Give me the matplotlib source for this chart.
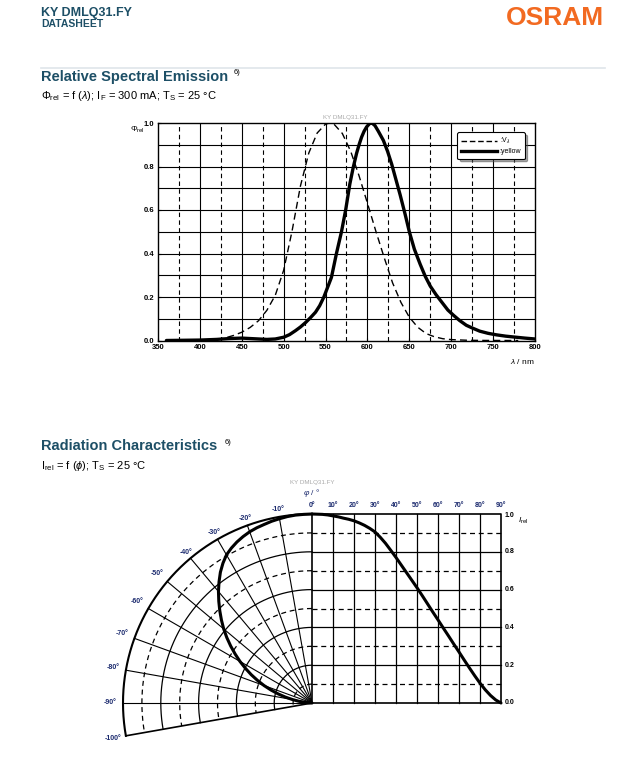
import numpy as np
import matplotlib
matplotlib.use('Agg')
import matplotlib.pyplot as plt
from matplotlib.lines import Line2D

plt.rcParams['font.family'] = ['Liberation Sans', 'DejaVu Sans']
plt.rcParams['mathtext.fontset'] = 'custom'
plt.rcParams['mathtext.rm'] = 'Liberation Sans'
plt.rcParams['mathtext.it'] = 'Liberation Sans:italic'
plt.rcParams['mathtext.bf'] = 'Liberation Sans:bold'

# spectral emission data
wl_v = [380, 400, 420, 430, 440, 450, 460, 470, 480, 490, 500, 510, 520, 530, 540, 550,
        555, 560, 570, 580, 590, 600, 610, 620, 630, 640, 650, 660, 670, 680, 690, 700,
        720, 740, 760, 780]
v_lambda = [0.0, 0.0004, 0.004, 0.0116, 0.023, 0.038, 0.06, 0.091, 0.139, 0.208, 0.323,
            0.503, 0.71, 0.862, 0.954, 0.995, 1.0, 0.995, 0.952, 0.87, 0.757, 0.631, 0.503,
            0.381, 0.265, 0.175, 0.107, 0.061, 0.032, 0.017, 0.0082, 0.0041, 0.001, 0.0003,
            0.0001, 0.0]

wl_y = [360, 380, 400, 420, 435, 450, 465, 480, 490, 500, 507, 514, 520, 526, 532, 538,
        543, 548, 553, 557, 563, 569, 574, 579, 583, 587, 590, 593, 596, 599, 602, 604,
        606, 609, 613, 619, 624, 629, 634, 639, 645, 650, 656, 663, 669, 675, 682, 689,
        696, 703, 710, 718, 726, 734, 744, 754, 765, 775, 788, 800]
yellow = [0.0, 0.001, 0.002, 0.005, 0.009, 0.011, 0.008, 0.005, 0.007, 0.015, 0.027, 0.045,
          0.062, 0.082, 0.105, 0.13, 0.16, 0.2, 0.25, 0.29, 0.4, 0.5, 0.6, 0.72, 0.795, 0.86,
          0.9, 0.935, 0.962, 0.982, 0.995, 1.0, 0.998, 0.988, 0.962, 0.92, 0.87, 0.81, 0.74,
          0.67, 0.58, 0.5, 0.42, 0.35, 0.295, 0.25, 0.21, 0.175, 0.14, 0.115, 0.092, 0.07,
          0.056, 0.043, 0.033, 0.026, 0.02, 0.016, 0.011, 0.007]

# radiation characteristics
phi = [0, 2.5, 5, 7.5, 10, 12.5, 15, 17.5, 20, 22.5, 25, 27.5, 30, 32.5, 35, 37.5, 40,
       42.5, 45, 47.5, 50, 52.5, 55, 57.5, 60, 62.5, 65, 67.5, 70, 72.5, 75, 77.5, 80,
       82.5, 85, 87.5, 90]
i_rel = [1.0, 0.999, 0.998, 0.995, 0.99, 0.985, 0.978, 0.972, 0.964, 0.953, 0.94, 0.924,
         0.905, 0.877, 0.845, 0.808, 0.77, 0.73, 0.69, 0.65, 0.61, 0.568, 0.525, 0.482,
         0.44, 0.397, 0.355, 0.312, 0.27, 0.227, 0.185, 0.144, 0.105, 0.07, 0.04, 0.016, 0.0]

W, H = 639, 759
TEAL = '#1d4f66'
NAVY = '#1b2a6e'

fig = plt.figure(figsize=(W / 100, H / 100), dpi=100)


def ft(x, y, s, **kw):
    # place text with pixel coordinates (top-left origin)
    return fig.text(x / W, 1 - y / H, s, **kw)


# header
ft(41, 13, 'KY DMLQ31.FY', fontsize=9, fontweight='bold', color=TEAL, va='center')
ft(41, 24, 'DATASHEET', fontsize=7.5, fontweight='bold', color=TEAL, va='center')
ft(604, 18, 'OSRAM', fontsize=19, fontweight='bold', color='#f26a21', va='center', ha='right')
fig.add_artist(Line2D([41 / W, 605 / W], [1 - 68 / H, 1 - 68 / H], color='#dfe5ea', lw=1.2))

ft(41, 77, 'Relative Spectral Emission', fontsize=10.5, fontweight='bold', color=TEAL, va='center')
ft(234, 73, '6)', fontsize=5.5, color='black', va='center')
ft(41, 96, r'$\Phi_{\rm rel}$ = f ($\lambda$); I$_{\rm F}$ = 300 mA; T$_{\rm S}$ = 25 °C',
   fontsize=8, va='center')

ft(41, 446, 'Radiation Characteristics', fontsize=10.5, fontweight='bold', color=TEAL, va='center')
ft(225, 442, '6)', fontsize=5.5, color='black', va='center')
ft(41, 466, r'I$_{\rm rel}$ = f ($\phi$); T$_{\rm S}$ = 25 °C', fontsize=8, va='center')

# ---------------- spectral emission chart ----------------
L, R, T, B = 158, 535, 123, 340.5
ax = fig.add_axes([L / W, 1 - B / H, (R - L) / W, (B - T) / H])
ax.set_xlim(350, 800)
ax.set_ylim(0, 1)

for x in range(375, 800, 25):
    ls = '-' if x % 50 == 0 else (0, (4, 3))
    ax.axvline(x, color='black', lw=0.8, ls=ls, zorder=1)
for y in np.arange(0.1, 1.0, 0.1):
    ax.axhline(y, color='black', lw=0.8, zorder=1)

ax.plot(wl_v, v_lambda, color='black', lw=1.0, ls=(0, (5, 3)), zorder=3)
ax.plot(wl_y, yellow, color='black', lw=2.4, zorder=4, solid_capstyle='round',
        solid_joinstyle='round')

ax.set_xticks(range(350, 801, 50))
ax.set_yticks(np.arange(0, 1.01, 0.2))
ax.set_yticklabels(['%.1f' % v for v in np.arange(0, 1.01, 0.2)])
ax.tick_params(labelsize=5.5, length=2, width=0.8, direction='in', pad=2.5)
for lab in ax.get_xticklabels() + ax.get_yticklabels():
    lab.set_fontweight('bold')
for s in ax.spines.values():
    s.set_linewidth(1.0)

handles = [Line2D([], [], color='black', lw=1.0, ls=(0, (4, 2))),
           Line2D([], [], color='black', lw=2.4)]
leg = ax.legend(handles, [r':V$_{\lambda}$', ':yellow'], loc='upper right',
                bbox_to_anchor=(0.973, 0.957), borderaxespad=0, prop={'size': 5},
                fancybox=True, shadow=True, framealpha=1, edgecolor='black',
                handlelength=5.2, handletextpad=0.3, borderpad=0.55, labelspacing=0.25)
leg.get_frame().set_linewidth(0.8)
leg.set_zorder(6)

ft(345, 118, 'KY DMLQ31.FY', fontsize=4.5, color='#aaaaaa', ha='center', va='center')
ft(137, 130, r'$\mathit{\Phi}_{\rm rel}$', fontsize=6, ha='center', va='center')
ft(522, 361, r'$\lambda$ / nm', fontsize=6, ha='center', va='center')

# ---------------- radiation characteristics chart ----------------
OX, OY, U = 312, 703, 189
L2, R2, T2, B2 = 40, 615, 470, 759
ax2 = fig.add_axes([L2 / W, 1 - B2 / H, (R2 - L2) / W, (B2 - T2) / H])
ax2.set_xlim((L2 - OX) / U, (R2 - OX) / U)
ax2.set_ylim((OY - B2) / U, (OY - T2) / U)
ax2.axis('off')

t = np.radians(np.linspace(0, 100, 201))
for k in range(1, 11):
    r = k / 10
    if k == 10:
        ax2.plot(-r * np.sin(t), r * np.cos(t), color='black', lw=1.5)
    elif k % 2 == 0:
        ax2.plot(-r * np.sin(t), r * np.cos(t), color='black', lw=0.9)
    else:
        ax2.plot(-r * np.sin(t), r * np.cos(t), color='black', lw=0.9, ls=(0, (4, 3)))
for a in range(10, 101, 10):
    ar = np.radians(a)
    lw = 1.2 if a == 100 else 0.8
    ax2.plot([0, -np.sin(ar)], [0, np.cos(ar)], color='black', lw=lw)

for a in range(10, 90, 10):
    ax2.plot([a / 90, a / 90], [0, 1], color='black', lw=0.9)
for k in range(1, 10):
    y = k / 10
    if k % 2 == 0:
        ax2.plot([0, 1], [y, y], color='black', lw=0.9)
    else:
        ax2.plot([0, 1], [y, y], color='black', lw=0.9, ls=(0, (4, 3)))
ax2.plot([0, 1, 1, 0, 0], [0, 0, 1, 1, 0], color='black', lw=1.2)

# curve in cartesian part and polar part
ph = np.array(phi)
ir = np.array(i_rel)
ax2.plot(ph / 90, ir, color='black', lw=2.2, solid_capstyle='round',
         solid_joinstyle='round', zorder=5)
pr = np.radians(ph)
ax2.plot(-ir * np.sin(pr), ir * np.cos(pr), color='black', lw=2.2, solid_capstyle='round',
         solid_joinstyle='round', zorder=5)

# labels
for a in range(10, 101, 10):
    ar = np.radians(a)
    rr = 1.04 if a < 50 else 1.07
    ax2.text(-rr * np.sin(ar), rr * np.cos(ar), '-%d°' % a, fontsize=5, color=NAVY,
             ha='center', va='center', fontweight='bold')
for a in range(0, 91, 10):
    ax2.text(a / 90, 1.045, '%d°' % a, fontsize=5, color=NAVY, ha='center', va='center',
             fontweight='bold')
for k in range(0, 6):
    y = k * 0.2
    ax2.text(1.02, y - (0.008 if k == 5 else 0), '%.1f' % y, fontsize=5, ha='left',
             va='center', fontweight='bold')
ax2.text(1.12, 0.965, r'$I_{\rm rel}$', fontsize=6, ha='center', va='center')
ax2.text(0.0, 1.11, r'$\varphi$ / °', fontsize=6, color=NAVY, ha='center', va='center')
ax2.text(0.0, 1.165, 'KY DMLQ31.FY', fontsize=4.5, color='#aaaaaa', ha='center', va='center')

fig.savefig('out.png', dpi=100)
